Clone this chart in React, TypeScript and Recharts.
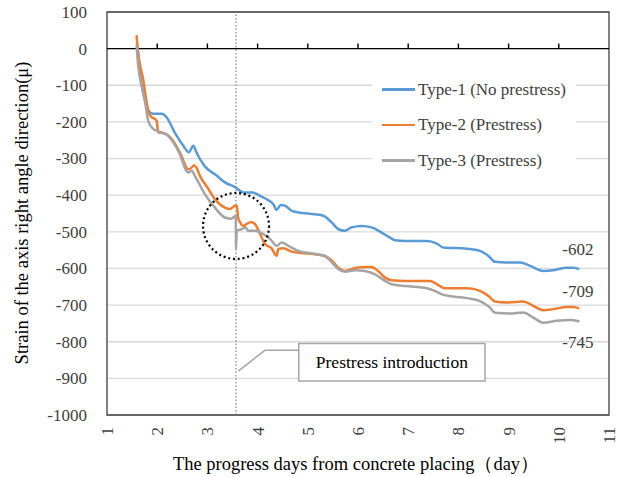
import React from "react";
import {
  LineChart,
  Line,
  XAxis,
  YAxis,
  CartesianGrid,
  ReferenceLine,
  ReferenceArea,
  ReferenceDot,
} from "recharts";

// values
const TYPE1_DAYS = [1.59, 1.61, 1.66, 1.72, 1.82, 1.92, 2.09, 2.19, 2.35, 2.52, 2.63, 2.72, 2.78, 2.94, 3.17, 3.35, 3.55, 3.73, 3.9, 4.08, 4.18, 4.31, 4.38, 4.46, 4.55, 4.68, 4.81, 5.14, 5.31, 5.48, 5.61, 5.74, 5.87, 6.07, 6.27, 6.47, 6.64, 6.74, 6.94, 7.37, 7.57, 7.7, 8.17, 8.43, 8.6, 8.73, 8.96, 9.23, 9.43, 9.69, 9.89, 10.16, 10.29, 10.41];
const TYPE1_STRAIN = [12, 0, -74, -119, -169, -178, -178, -188, -229, -265, -283, -265, -283, -320, -345, -365, -378, -393, -393, -404, -411, -424, -440, -427, -429, -443, -447, -452, -456, -475, -493, -497, -488, -484, -488, -502, -516, -523, -525, -525, -532, -543, -546, -552, -566, -582, -584, -584, -593, -607, -605, -598, -598, -602];

const TYPE2_DAYS = [1.59, 1.61, 1.66, 1.72, 1.79, 1.86, 1.99, 2.02, 2.12, 2.29, 2.45, 2.62, 2.69, 2.73, 2.78, 2.85, 3.02, 3.15, 3.35, 3.45, 3.55, 3.59, 3.61, 3.65, 3.71, 3.78, 3.87, 3.95, 4.05, 4.15, 4.28, 4.38, 4.41, 4.51, 4.68, 4.88, 5.14, 5.34, 5.48, 5.61, 5.74, 5.94, 6.14, 6.27, 6.4, 6.54, 6.67, 6.94, 7.43, 7.63, 7.73, 8.17, 8.43, 8.6, 8.73, 8.96, 9.29, 9.49, 9.69, 9.89, 10.16, 10.29, 10.41];
const TYPE2_STRAIN = [37, 0, -46, -83, -147, -183, -197, -229, -230, -247, -283, -329, -324, -318, -324, -347, -383, -411, -434, -438, -429, -429, -461, -474, -484, -479, -473, -479, -506, -534, -545, -566, -547, -545, -554, -558, -561, -566, -579, -598, -607, -599, -596, -596, -607, -625, -632, -634, -634, -648, -654, -654, -661, -675, -690, -693, -690, -702, -714, -711, -705, -705, -709];

const TYPE3_DAYS = [1.59, 1.62, 1.69, 1.76, 1.82, 1.92, 2.09, 2.22, 2.42, 2.62, 2.69, 2.75, 2.95, 3.15, 3.35, 3.48, 3.565, 3.57, 3.585, 3.68, 3.76, 3.81, 3.95, 4.11, 4.25, 4.38, 4.48, 4.61, 4.81, 5.08, 5.34, 5.48, 5.61, 5.74, 5.94, 6.14, 6.34, 6.54, 6.67, 6.94, 7.37, 7.53, 7.7, 8.17, 8.43, 8.63, 8.73, 9.03, 9.29, 9.49, 9.69, 9.96, 10.22, 10.41];
const TYPE3_STRAIN = [8, -46, -101, -147, -197, -219, -229, -238, -279, -338, -333, -347, -397, -434, -461, -464, -456, -547, -497, -493, -488, -497, -497, -506, -520, -538, -529, -538, -552, -559, -566, -584, -602, -609, -605, -607, -616, -634, -643, -648, -654, -661, -672, -681, -689, -707, -721, -723, -720, -734, -748, -743, -741, -745];

const SERIES_NAMES = ["Type-1 (No prestress)", "Type-2 (Prestress)", "Type-3 (Prestress)"];
const SERIES_COLORS = ["#5b9bd5", "#ed7d31", "#a5a5a5"];
const END_LABELS = ["-602", "-709", "-745"];
const END_LABEL_Y = [-546, -661, -800];

const X_TICKS = [1, 2, 3, 4, 5, 6, 7, 8, 9, 10, 11];
const Y_TICKS = [100, 0, -100, -200, -300, -400, -500, -600, -700, -800, -900, -1000];

const PRESTRESS_DAY = 3.57;
const CIRCLE_CENTER = -484;

const FONT = "'Liberation Serif', 'Times New Roman', serif";

const toRows = (days: number[], strain: number[]) =>
  days.map((d, i) => ({ day: d, strain: strain[i] }));

const seriesData = [
  toRows(TYPE1_DAYS, TYPE1_STRAIN),
  toRows(TYPE2_DAYS, TYPE2_STRAIN),
  toRows(TYPE3_DAYS, TYPE3_STRAIN),
];

const DayTick = (props: any) => {
  const { x, y, payload } = props;
  return (
    <text
      transform={`translate(${x},${y}) rotate(-90)`}
      textAnchor="end"
      dy="0.35em"
      fill="#404040"
      style={{ fontFamily: FONT, fontSize: 17 }}
    >
      {payload.value}
    </text>
  );
};

const StrainTick = (props: any) => {
  const { x, y, payload } = props;
  return (
    <text
      x={x}
      y={y}
      textAnchor="end"
      dy="0.35em"
      fill="#404040"
      style={{ fontFamily: FONT, fontSize: 17 }}
    >
      {payload.value}
    </text>
  );
};

const EndLabel = (props: any) => {
  const { viewBox, value } = props;
  const cx = viewBox.x + viewBox.width / 2;
  const cy = viewBox.y + viewBox.height / 2;
  return (
    <text x={cx} y={cy} textAnchor="middle" dy="0.35em" fill="#404040" style={{ fontFamily: FONT, fontSize: 17 }}>
      {value}
    </text>
  );
};

const BoxLabel = (props: any) => {
  const { viewBox, value } = props;
  const cx = viewBox.x + viewBox.width / 2;
  const cy = viewBox.y + viewBox.height / 2;
  return (
    <text x={cx} y={cy} textAnchor="middle" dy="0.35em" fill="#000" style={{ fontFamily: FONT, fontSize: 17.5 }}>
      {value}
    </text>
  );
};

export default function App() {
  return (
    <div style={{ position: "absolute", left: 0, top: 0, width: 617, height: 477, background: "#fff" }}>
      <LineChart
        width={617}
        height={477}
        margin={{ top: 12, right: 8, left: 0, bottom: 0 }}
      >
        <CartesianGrid vertical={false} stroke="#d9d9d9" strokeWidth={1.3} />
        <XAxis
          type="number"
          dataKey="day"
          domain={[1, 11]}
          ticks={X_TICKS}
          axisLine={false}
          tickLine={false}
          tickMargin={6}
          height={62}
          tick={<DayTick />}
          allowDataOverflow
        />
        <YAxis
          type="number"
          domain={[-1000, 100]}
          ticks={Y_TICKS}
          axisLine={false}
          tickLine={false}
          tickMargin={14}
          width={107}
          tick={<StrainTick />}
          allowDataOverflow
        />
        <ReferenceArea x1={1} x2={11} y1={-1000} y2={100} fill="none" stroke="#404040" strokeWidth={1.3} />
        <ReferenceLine y={0} stroke="#000" strokeWidth={1.4} />
        {X_TICKS.slice(1, -1).map((t) => (
          <ReferenceLine key={t} segment={[{ x: t, y: 0 }, { x: t, y: 14 }]} stroke="#000" strokeWidth={1.4} />
        ))}
        <ReferenceLine x={PRESTRESS_DAY} stroke="#7f7f7f" strokeWidth={1.2} strokeDasharray="1.5 2" />
        <ReferenceDot
          x={PRESTRESS_DAY}
          y={CIRCLE_CENTER}
          r={33}
          fill="none"
          stroke="#000"
          strokeWidth={2.2}
          strokeDasharray="2 2.8"
        />
        <ReferenceLine segment={[{ x: 3.615, y: -880 }, { x: 4.15, y: -823 }]} stroke="#a6a6a6" strokeWidth={1.5} />
        <ReferenceLine segment={[{ x: 4.15, y: -823 }, { x: 4.82, y: -823 }]} stroke="#a6a6a6" strokeWidth={1.5} />
        <ReferenceArea
          x1={4.82}
          x2={8.53}
          y1={-907}
          y2={-805}
          fill="#fff"
          fillOpacity={1}
          stroke="#a6a6a6"
          strokeWidth={1.5}
          label={<BoxLabel value="Prestress introduction" />}
        />
        {END_LABELS.map((txt, i) => (
          <ReferenceDot
            key={txt}
            x={10.38}
            y={END_LABEL_Y[i]}
            r={0}
            fill="none"
            stroke="none"
            label={<EndLabel value={txt} />}
          />
        ))}
        {seriesData.map((rows, i) => (
          <Line
            key={SERIES_NAMES[i]}
            data={rows}
            dataKey="strain"
            name={SERIES_NAMES[i]}
            type="monotone"
            stroke={SERIES_COLORS[i]}
            strokeWidth={2.5}
            dot={false}
            isAnimationActive={false}
          />
        ))}
      </LineChart>

      <div
        style={{
          position: "absolute",
          left: 372,
          top: 73,
          width: 204,
          height: 104,
          background: "#fff",
          fontFamily: FONT,
          fontSize: 17,
          color: "#404040",
        }}
      >
        {SERIES_NAMES.map((name, i) => (
          <div
            key={name}
            style={{
              position: "absolute",
              left: 10,
              top: 16.5 + i * 35.5 - 10,
              height: 20,
              display: "flex",
              alignItems: "center",
              whiteSpace: "nowrap",
            }}
          >
            <span style={{ display: "inline-block", width: 33, height: 2.5, background: SERIES_COLORS[i], marginRight: 3 }} />
            <span style={{ lineHeight: "20px" }}>{name}</span>
          </div>
        ))}
      </div>

      <div
        style={{
          position: "absolute",
          left: 22,
          top: 213,
          transform: "translate(-50%, -50%) rotate(-90deg)",
          whiteSpace: "nowrap",
          fontFamily: FONT,
          fontSize: 18.5,
          lineHeight: 1,
          color: "#000",
        }}
      >
        Strain of the axis right angle direction(μ)
      </div>
      <div
        style={{
          position: "absolute",
          left: 356,
          top: 464,
          transform: "translate(-50%, -50%)",
          whiteSpace: "nowrap",
          fontFamily: FONT,
          fontSize: 18.5,
          lineHeight: 1,
          color: "#000",
        }}
      >
        The progress days from concrete placing（day）
      </div>
    </div>
  );
}
